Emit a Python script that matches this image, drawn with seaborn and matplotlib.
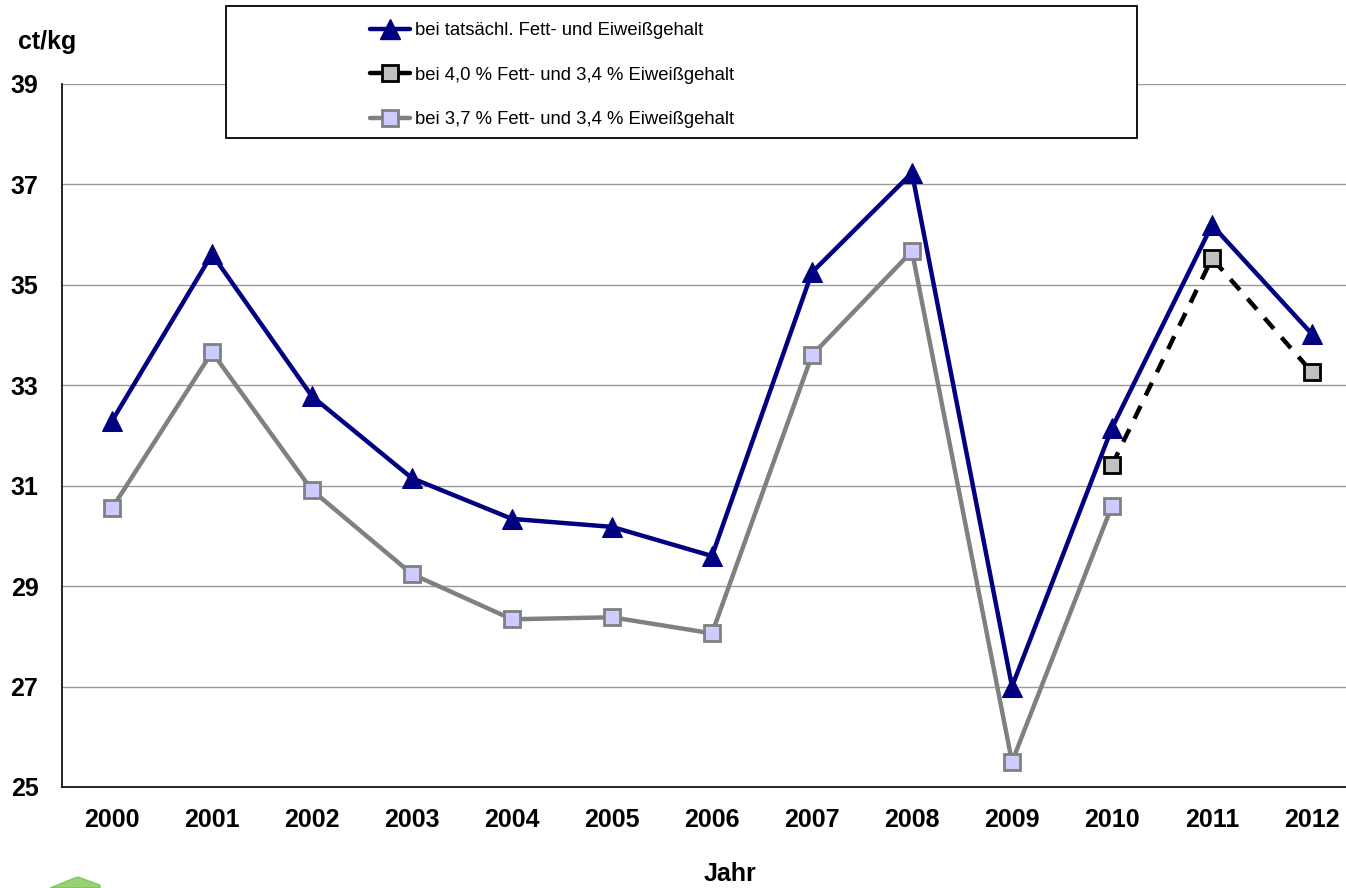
import numpy as np
import pandas as pd
import seaborn as sns
import matplotlib.pyplot as plt
from matplotlib.lines import Line2D
from matplotlib.patches import Polygon, Rectangle

years = list(range(2000, 2013))
tatsaechlich = [32.29, 35.61, 32.78, 31.15, 30.34, 30.18, 29.60, 35.25, 37.23, 27.00, 32.15, 36.19, 34.02]
fett40 = [np.nan] * 10 + [31.41, 35.53, 33.26]
fett37 = [30.55, 33.66, 30.91, 29.24, 28.34, 28.38, 28.06, 33.60, 35.67, 25.50, 30.60, np.nan, np.nan]

labels = ['bei tatsächl. Fett- und Eiweißgehalt',
          'bei 4,0 % Fett- und 3,4 % Eiweißgehalt',
          'bei 3,7 % Fett- und 3,4 % Eiweißgehalt']

df = pd.DataFrame({'Jahr': years, labels[0]: tatsaechlich, labels[1]: fett40, labels[2]: fett37})

sns.set_style('white')
plt.rcParams['font.family'] = ['Liberation Sans', 'DejaVu Sans']
plt.rcParams['text.color'] = 'black'
plt.rcParams['xtick.labelcolor'] = 'black'
plt.rcParams['ytick.labelcolor'] = 'black'

W, H = 1346, 888
fig = plt.figure(figsize=(W / 100, H / 100), dpi=100)
# plot area runs past the right edge, as in the original
ax = fig.add_axes([62 / W, 1 - 787 / H, 1300 / W, (787 - 84) / H])

sns.lineplot(data=df, x='Jahr', y=labels[2], ax=ax, color='#808080', lw=3.2,
             marker='s', markersize=11, markerfacecolor='#CCCCFF', markeredgecolor='#808080',
             markeredgewidth=2)
sns.lineplot(data=df, x='Jahr', y=labels[1], ax=ax, color='black', lw=3.2, linestyle=(0, (3.2, 2.6)),
             marker='s', markersize=11, markerfacecolor='#C0C0C0', markeredgecolor='black',
             markeredgewidth=2)
sns.lineplot(data=df, x='Jahr', y=labels[0], ax=ax, color='#000080', lw=3.2,
             marker='^', markersize=14, markerfacecolor='#000080', markeredgecolor='#000080')

ax.set_xlim(1999.5, 2012.5)
ax.set_ylim(25, 39)
ax.set_yticks(range(25, 40, 2))
ax.set_xticks(years)
ax.set_xticks(np.arange(1999.5, 2013, 1), minor=True)
ax.tick_params(axis='x', which='major', length=0, pad=15)
ax.tick_params(axis='x', which='minor', length=7, width=1, color='#555555', direction='out')
ax.tick_params(axis='y', length=7, width=1, color='#555555', direction='out', pad=10)
for lab in ax.get_xticklabels() + ax.get_yticklabels():
    lab.set_fontsize(18)
    lab.set_fontweight('bold')
    lab.set_color('black')
ax.grid(axis='y', color='#9a9a9a', lw=1)
ax.set_axisbelow(True)
for s in ['top', 'right']:
    ax.spines[s].set_visible(False)
for s in ['left', 'bottom']:
    ax.spines[s].set_color('black')
    ax.spines[s].set_linewidth(1.2)
ax.set_xlabel('')
ax.set_ylabel('')

fig.text(18 / W, 1 - 42 / H, 'ct/kg', fontsize=18, fontweight='bold', va='center', ha='left')
fig.text(730 / W, 1 - 874 / H, 'Jahr', fontsize=18, fontweight='bold', va='center', ha='center')

handles = [
    Line2D([], [], color='#000080', lw=3.2, marker='^', markersize=14, markerfacecolor='#000080'),
    Line2D([], [], color='black', lw=3.2, marker='s', markersize=11, markerfacecolor='#C0C0C0',
           markeredgecolor='black', markeredgewidth=2),
    Line2D([], [], color='#808080', lw=3.2, marker='s', markersize=11, markerfacecolor='#CCCCFF',
           markeredgecolor='#808080', markeredgewidth=2),
]
fig.patches.append(Rectangle((226 / W, 1 - 138 / H), (1137 - 226) / W, (138 - 6) / H,
                             transform=fig.transFigure, facecolor='white', edgecolor='black',
                             lw=1.3, zorder=3))
fs = 13.3
leg = fig.legend(handles, labels, loc='center left', bbox_to_anchor=(370 / W, 1 - 75 / H),
                 frameon=False, prop={'family': 'Liberation Sans', 'size': fs},
                 handlelength=40 / (fs * 1.389), handletextpad=5 / (fs * 1.389),
                 labelspacing=27.5 / (fs * 1.389), borderpad=0, borderaxespad=0)
leg.set_zorder(4)

# cropped green logo at the bottom-left corner
fig.patches.append(Polygon([[50 / W, 0], [72 / W, 9 / H], [78 / W, 11 / H], [100 / W, 3 / H], [100 / W, 0]],
                           closed=True, transform=fig.transFigure, color='#6cbf3a', alpha=0.7))

fig.savefig('out.png', dpi=100)
